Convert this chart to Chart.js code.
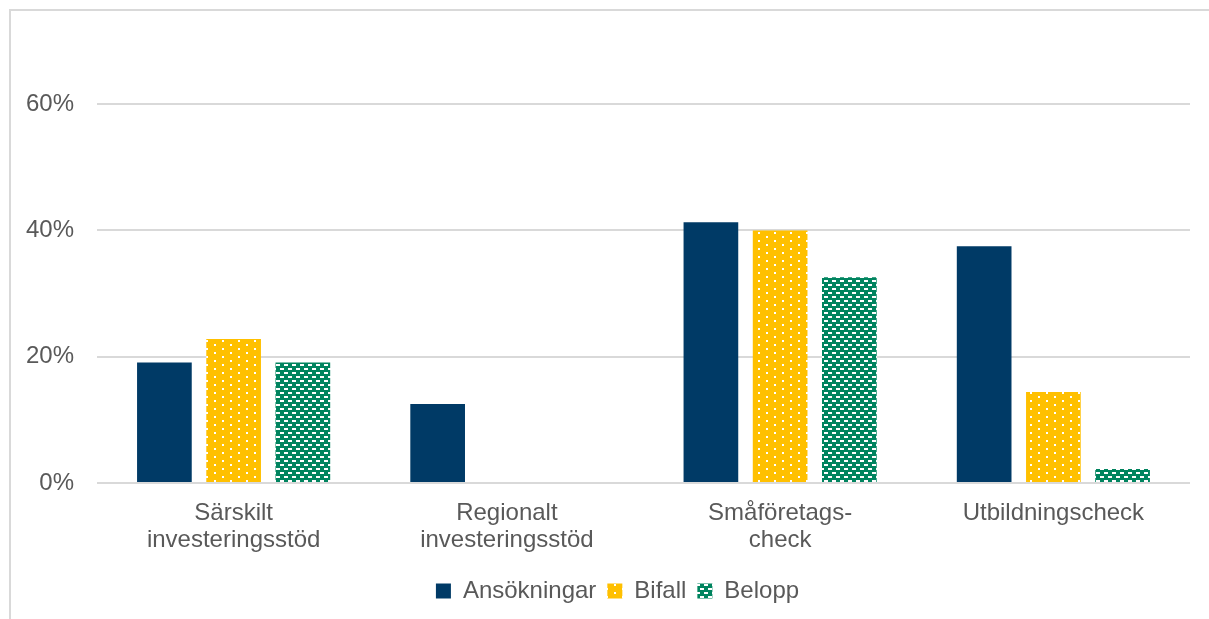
<!DOCTYPE html>
<html>
<head>
<meta charset="utf-8">
<script src="https://cdn.jsdelivr.net/npm/chart.js@4"></script>
<style>
  html, body { margin: 0; padding: 0; background: #fff; overflow: hidden; }
  #ram { position: absolute; left: 9px; top: 9px; width: 1300px; height: 700px;
         border-left: 2px solid #d9d9d9; border-top: 2px solid #d9d9d9; }
  #c { position: absolute; left: 11px; top: 11px; }
</style>
</head>
<body>
<div id="ram"></div>
<canvas id="c" width="1198" height="608"></canvas>
<script>
// Kategorier och värden (procent)
const kategorier = [
    ['Särskilt', 'investeringsstöd'],
    ['Regionalt', 'investeringsstöd'],
    ['Småföretags-', 'check'],
    ['Utbildningscheck']
];
const ansokningar = [19.1, 12.5, 41.3, 37.5];
const bifall = [22.8, 0, 40.0, 14.4];
const belopp = [19.1, 0, 32.6, 2.2];
const yTicks = [0, 20, 40, 60];

const ctx = document.getElementById('c').getContext('2d');

// Mönster för Bifall (prickar) och Belopp (streck)
function prickar() {
    const p = document.createElement('canvas');
    p.width = 16; p.height = 8;
    const g = p.getContext('2d');
    g.fillStyle = '#FFC000';
    g.fillRect(0, 0, 16, 8);
    g.fillStyle = '#ffffff';
    g.fillRect(3, 1, 2, 2);
    g.fillRect(11, 5, 2, 2);
    return ctx.createPattern(p, 'repeat');
}

function streck() {
    const p = document.createElement('canvas');
    p.width = 8; p.height = 8;
    const g = p.getContext('2d');
    g.fillStyle = '#00845F';
    g.fillRect(0, 0, 8, 8);
    g.fillStyle = '#ffffff';
    g.fillRect(1, 1, 4, 2);
    g.fillRect(5, 5, 4, 2);
    g.fillRect(0, 5, 1, 2);
    return ctx.createPattern(p, 'repeat');
}

const grafont = '#595959';

// flytta legenden lite åt höger, som i originalet
const legendFlytt = {
    id: 'legendFlytt',
    afterLayout(chart) {
        chart.legend.left += 17;
        chart.legend.right += 17;
    }
};

new Chart(ctx, {
    type: 'bar',
    data: {
        labels: kategorier,
        datasets: [{
            label: 'Ansökningar',
            data: ansokningar,
            backgroundColor: '#003A66',
            borderWidth: 0
        }, {
            label: 'Bifall',
            data: bifall,
            backgroundColor: prickar(),
            borderWidth: 0
        }, {
            label: 'Belopp',
            data: belopp,
            backgroundColor: streck(),
            borderWidth: 0
        }]
    },
    plugins: [legendFlytt],
    options: {
        responsive: false,
        animation: false,
        layout: {
            padding: { top: 30, right: 19, bottom: 6, left: 0 }
        },
        datasets: {
            bar: {
                categoryPercentage: 0.76,
                barPercentage: 0.79
            }
        },
        plugins: {
            tooltip: { enabled: false },
            legend: {
                position: 'bottom',
                labels: {
                    boxWidth: 15,
                    boxHeight: 15,
                    padding: 11,
                    color: grafont,
                    font: { family: 'Liberation Sans', size: 24, lineHeight: 1 }
                }
            }
        },
        scales: {
            x: {
                grid: { display: false, drawTicks: false },
                border: { display: false },
                ticks: {
                    color: grafont,
                    padding: 17,
                    maxRotation: 0,
                    autoSkip: false,
                    font: { family: 'Liberation Sans', size: 24, lineHeight: 1.125 }
                },
                afterFit: (s) => { s.height = 85; s.paddingLeft = 0; s.paddingRight = 0; }
            },
            y: {
                min: 0,
                max: 70,
                grid: { color: '#d9d9d9', lineWidth: 2, drawTicks: false },
                border: { display: false },
                ticks: {
                    color: grafont,
                    padding: 23,
                    font: { family: 'Liberation Sans', size: 24 },
                    callback: (v) => v + '%'
                },
                afterBuildTicks: (s) => { s.ticks = yTicks.map(v => ({ value: v })); },
                afterFit: (s) => { s.width = 86; s.paddingTop = 0; s.paddingBottom = 0; }
            }
        }
    }
});
</script>
</body>
</html>
